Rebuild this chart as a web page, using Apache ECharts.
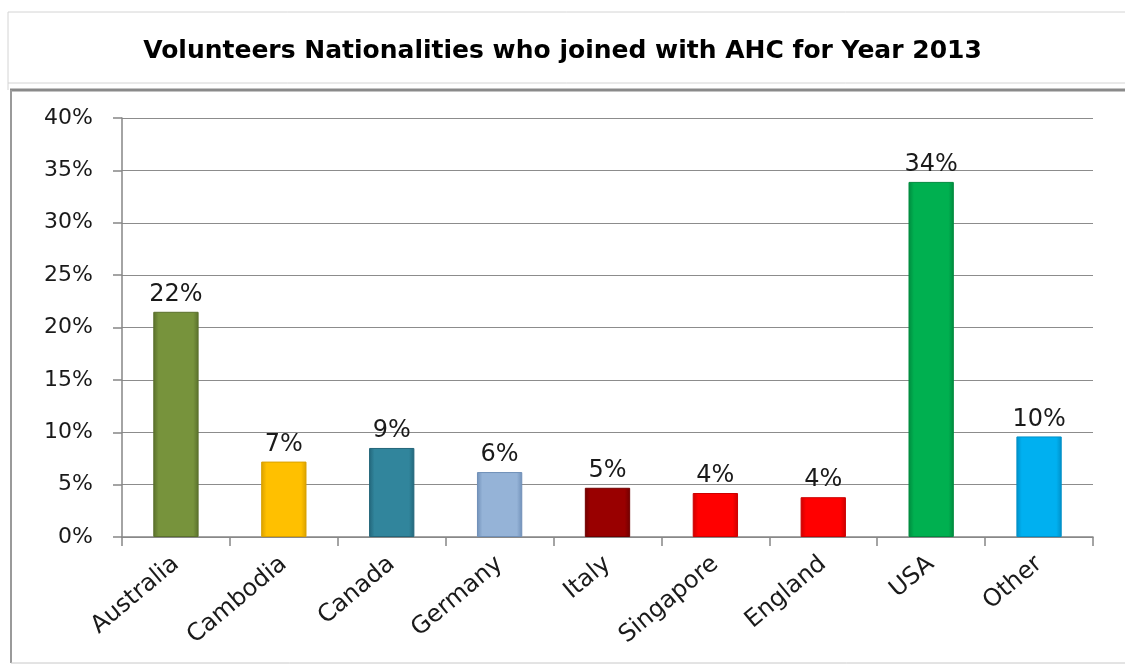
<!DOCTYPE html>
<html>
<head>
<meta charset="utf-8">
<script src="https://cdn.jsdelivr.net/npm/echarts@6/dist/echarts.min.js"></script>
<style>
html,body{margin:0;padding:0;background:#fff;}
#chart{width:1125px;height:668px;}
</style>
</head>
<body>
<div id="chart"></div>
<script>
const titleText = 'Volunteers Nationalities who joined with AHC for Year 2013';
const categories = ['Australia','Cambodia','Canada','Germany','Italy','Singapore','England','USA','Other'];
const values = [21.5, 7.2, 8.5, 6.2, 4.7, 4.2, 3.8, 33.9, 9.6];
const barColors = ['#77933C','#FFC000','#31859C','#95B3D7','#990000','#FF0000','#FF0000','#00B050','#00B0F0'];
const edgeColors = ['#5A702C','#D9A000','#23667A','#7090B8','#700000','#CC0000','#CC0000','#008A3E','#0090C8'];
const yTicks = [0,5,10,15,20,25,30,35,40];

const chart = echarts.init(document.getElementById('chart'));

function barStyle(i){
  return {
    color: new echarts.graphic.LinearGradient(0,0,1,0,[
      {offset:0,color:edgeColors[i]},
      {offset:0.12,color:barColors[i]},
      {offset:0.88,color:barColors[i]},
      {offset:1,color:edgeColors[i]}
    ]),
    borderColor: edgeColors[i],
    borderWidth: 1
  };
}

chart.setOption({
  animation:false,
  title:{
    text:titleText,
    left:'center',
    top:34,
    textStyle:{fontFamily:'DejaVu Sans',fontWeight:'bold',fontSize:25,color:'#000'}
  },
  graphic:[
    {type:'line',shape:{x1:8,y1:12,x2:1125,y2:12},style:{stroke:'#d4d4d4',lineWidth:1}},
    {type:'line',shape:{x1:8,y1:12,x2:8,y2:90},style:{stroke:'#d4d4d4',lineWidth:1}},
    {type:'line',shape:{x1:8,y1:83,x2:1125,y2:83},style:{stroke:'#d4d4d4',lineWidth:1}},
    {type:'line',shape:{x1:10,y1:90,x2:1125,y2:90},style:{stroke:'#8a8a8a',lineWidth:3}},
    {type:'line',shape:{x1:11,y1:90,x2:11,y2:663},style:{stroke:'#9a9a9a',lineWidth:2}},
    {type:'line',shape:{x1:11,y1:663,x2:1125,y2:663},style:{stroke:'#c8c8c8',lineWidth:1}}
  ],
  grid:{left:122,right:32,top:118,bottom:131,containLabel:false},
  xAxis:{
    type:'category',
    data:categories,
    axisLine:{lineStyle:{color:'#868686',width:1.5}},
    axisTick:{show:true,length:9,lineStyle:{color:'#868686',width:1.5}},
    axisLabel:{rotate:40,margin:24,fontFamily:'DejaVu Sans',fontSize:24,color:'#1a1a1a'}
  },
  yAxis:{
    type:'value',
    min:0,max:40,interval:5,
    axisLine:{show:true,lineStyle:{color:'#868686',width:1.5}},
    axisTick:{show:true,length:9,lineStyle:{color:'#868686',width:1.5}},
    splitLine:{lineStyle:{color:'#8c8c8c',width:1.2}},
    axisLabel:{margin:29,fontFamily:'DejaVu Sans',fontSize:22,color:'#1a1a1a',
      formatter:v=>yTicks.includes(v)?v+'%':''}
  },
  series:[{
    type:'bar',
    barWidth:'42%',
    data:values.map((v,i)=>({value:v,itemStyle:barStyle(i)})),
    label:{show:true,position:'top',distance:5,fontFamily:'DejaVu Sans',fontSize:24,color:'#1a1a1a',
      formatter:p=>Math.round(p.value)+'%'}
  }]
});
</script>
</body>
</html>
